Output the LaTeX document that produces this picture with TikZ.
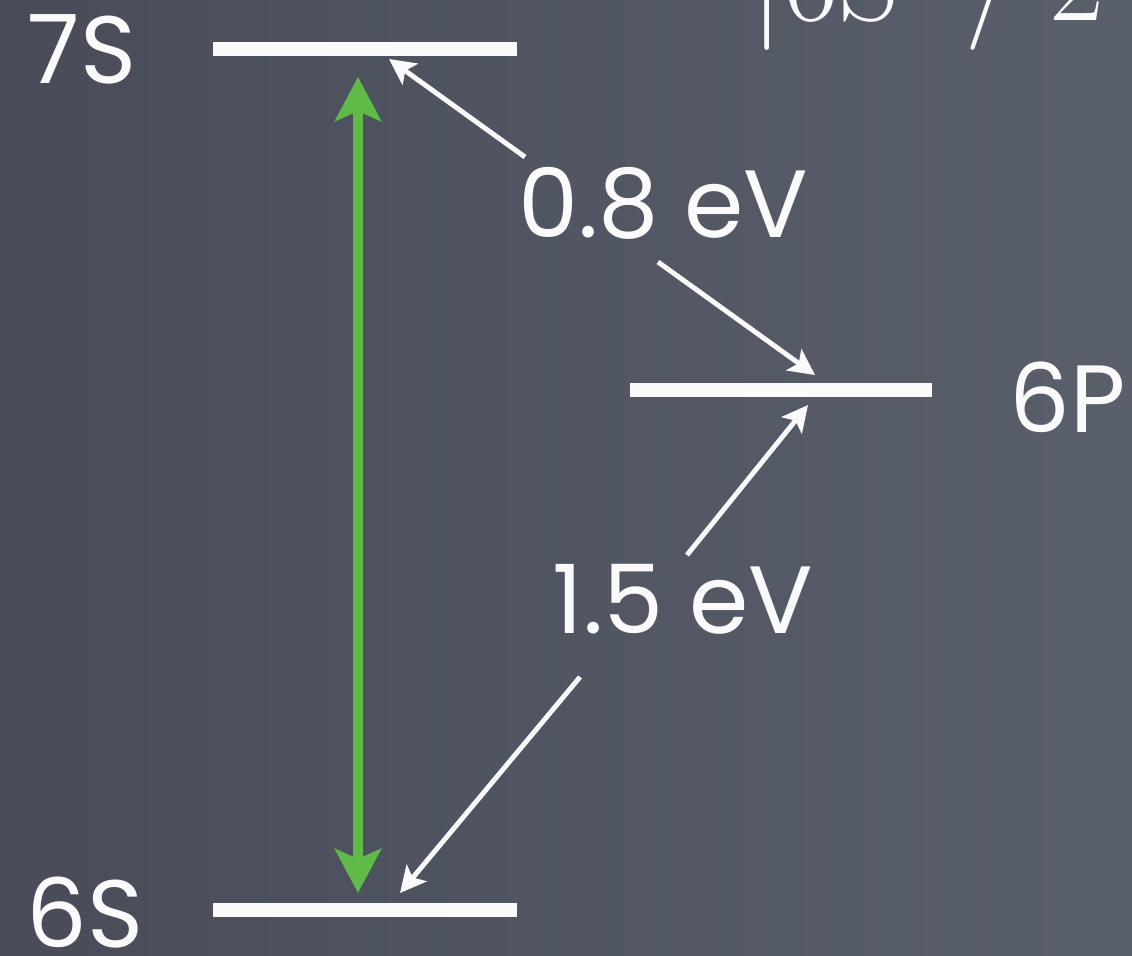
\documentclass[tikz,border=0pt]{standalone}
\usepackage{fontspec}
\newfontfamily\chalk{Poppins}
\usepackage{xcolor}
\definecolor{boardDark}{HTML}{474C58}
\definecolor{boardLight}{HTML}{5A5F6C}
\definecolor{chalkGreen}{HTML}{5FBA47}
\definecolor{chalkWhite}{HTML}{FAFAFA}
\usetikzlibrary{arrows.meta}

\begin{document}
\begin{tikzpicture}[x=0.025cm, y=-0.025cm,
    level/.style={draw=chalkWhite, line width=10pt},
    lbl/.style={text=chalkWhite, font=\chalk\fontsize{68}{76}\selectfont, inner sep=0pt, anchor=base},
    ptr/.style={draw=chalkWhite, line width=3.5pt,
      -{Stealth[length=0.65cm, width=0.65cm, inset=0.15cm]}},
    pump/.style={draw=chalkGreen, line width=7pt,
      {Stealth[length=1.1cm, width=1.15cm, inset=0.25cm]}-{Stealth[length=1.1cm, width=1.15cm, inset=0.25cm]}}]
  % ------- board -------
  \shade[left color=boardDark, right color=boardLight] (0,0) rectangle (1132,955);
  \useasboundingbox (0,0) rectangle (1132,955);
  % ------- levels -------
  \draw[level] (213,49) -- (517,49);
  \draw[level] (630,390) -- (932,390);
  \draw[level] (213,910) -- (517,910);
  \node[lbl] (s7) at (82,83) {7S};
  \node[lbl] (p6) at (1068,432) {6P};
  \node[lbl] (s6) at (85,947) {6S};
  % ------- cut-off heading -------
  \node[text=chalkWhite, font=\fontsize{85}{90}\selectfont, inner sep=0pt, anchor=base west] (head) at (750,20) {\textbar6S\hspace{0.55em}/\hspace{0.25em}2};
  % ------- energies -------
  \node[lbl] (ev08) at (663,237) {0.8 eV};
  \node[lbl] (ev15) at (683,633) {1.5 eV};
  \coordinate (a7) at (389,59);
  \coordinate (a6p) at (815,375);
  \coordinate (b6p) at (808,405);
  \coordinate (a6) at (400,893);
  \coordinate (f1) at (525,157);
  \coordinate (f2) at (658,262);
  \coordinate (f3) at (687,555);
  \coordinate (f4) at (580,677);
  \draw[ptr] (f1) -- (a7);
  \draw[ptr] (f2) -- (a6p);
  \draw[ptr] (f3) -- (b6p);
  \draw[ptr] (f4) -- (a6);
  % ------- 6S -> 7S -------
  \coordinate (g7) at (358,77);
  \coordinate (g6) at (358,893);
  \draw[pump] (g6) -- (g7);
\end{tikzpicture}
\end{document}
